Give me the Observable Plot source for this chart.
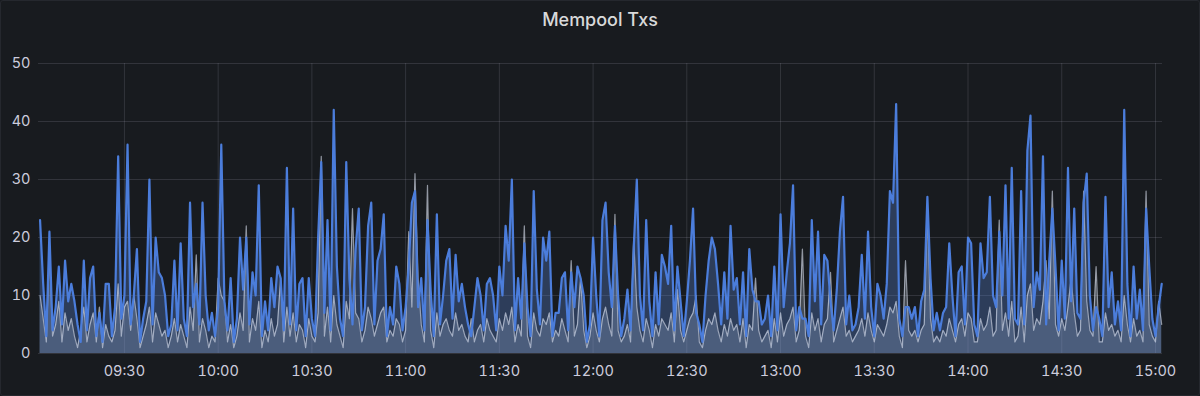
<!DOCTYPE html>
<html>
<head>
<meta charset="utf-8">
<script src="https://cdn.jsdelivr.net/npm/d3@7"></script>
<script src="https://cdn.jsdelivr.net/npm/@observablehq/plot@0.6"></script>
<style>
  html, body { margin: 0; padding: 0; background: #111217; }
  #panel { position: relative; width: 1200px; height: 396px; background: #181b1f; overflow: hidden; }
  #frame { position: absolute; left: 0; top: 0; width: 1198px; height: 394px; border: 1px solid #25282e; border-radius: 3px; pointer-events: none; }
  #title { height: 40px; text-align: center; color: #d8d9da; font: 500 18px/40px Inter, "Noto Sans", sans-serif; }
</style>
</head>
<body>
<div id="panel">
  <div id="title">Mempool Txs</div>
  <div id="chart"></div>
  <div id="frame"></div>
</div>
<script>
// Time axis: one sample per minute starting at 09:03
const startTime = "09:03";
const domainStart = "09:02:30";
const domainEnd = "15:02:15";
const xTickLabels = ["09:30","10:00","10:30","11:00","11:30","12:00","12:30","13:00","13:30","14:00","14:30","15:00"];
const yTicks = [0, 10, 20, 30, 40, 50];

// Blue series (minute samples, by hour block)
const blue0903 = [
  23,12,3,21,4,8,15,5,16,9, 12,9,5,2,16,4,13,15,3,7, 2,12,12,3,8,34,6,10,36,5,
  10,18,2,6,9,30,5,20,14,13, 10,3,5,16,4,19,6,3,26,8, 12,5,26,10,4,7,3,8,36,9];
const blue1003 = [
  4,13,2,6,20,11,20,5,14,10, 29,3,9,4,13,8,15,13,4,32, 5,25,4,12,13,3,13,6,3,20,
  33,7,23,4,42,15,6,3,33,13, 5,18,25,4,8,22,26,5,16,18, 24,3,8,5,15,12,4,8,15,26];
const blue1103 = [
  28,8,13,4,23,11,3,24,5,10, 16,18,6,17,9,12,8,5,3,8, 13,10,4,12,13,10,4,15,10,22,
  16,30,4,13,6,19,8,3,28,11, 5,20,16,21,3,7,7,13,14,4, 14,8,15,13,10,2,5,20,10,3];
const blue1203 = [
  23,26,14,8,22,10,3,6,11,4, 18,30,10,4,23,9,3,14,5,17, 15,12,22,4,15,9,3,9,16,25,
  7,5,2,10,16,20,18,12,5,14, 6,22,11,13,5,14,3,18,11,9, 9,5,6,10,3,15,4,24,8,14];
const blue1303 = [
  19,29,4,8,6,6,3,23,9,21, 5,17,16,9,4,11,21,27,5,10, 4,5,8,17,6,21,8,3,12,10,
  6,12,28,26,43,6,3,8,8,6, 8,3,9,11,27,13,4,7,4,7, 8,19,10,3,14,15,5,20,19,5];
const blue1403 = [
  3,19,13,14,27,10,8,21,10,29, 6,32,6,5,28,5,35,41,8,14, 11,34,5,16,25,15,4,16,6,32,
  9,25,7,6,26,31,10,4,8,6, 3,27,8,14,5,9,4,42,12,3, 15,6,11,4,25,15,6,3,8,12];

// White series (minute samples, by hour block)
const white0903 = [
  10,6,2,18,3,5,9,2,7,4, 6,3,1,4,8,2,5,7,2,8, 1,5,3,2,4,12,3,8,9,4,
  10,6,1,3,5,8,2,7,5,3, 4,1,3,6,2,5,3,1,8,4, 17,2,6,4,1,3,2,13,10,9];
const white1003 = [
  2,5,1,3,7,4,22,2,6,4, 9,1,4,2,6,3,5,13,2,8, 3,7,2,5,4,1,6,3,2,7,
  34,3,8,2,10,5,3,1,9,6, 25,7,6,2,4,8,6,3,5,7, 8,2,4,3,6,5,2,4,21,8];
const white1103 = [
  31,13,5,2,29,4,1,7,3,5, 6,4,3,7,4,5,3,2,6,2, 4,5,2,6,4,3,2,6,4,7,
  5,8,2,5,3,22,3,1,7,4, 3,6,5,7,2,4,3,6,4,2, 16,3,5,13,4,1,3,7,4,2];
const white1203 = [
  6,8,5,3,24,4,2,3,5,2, 20,8,4,2,6,4,1,5,3,6, 5,4,7,2,11,4,2,4,6,7,
  10,2,1,4,6,5,7,4,2,5, 3,6,4,5,2,6,1,5,4,13, 4,2,3,4,1,6,2,7,3,5];
const white1303 = [
  6,8,2,4,18,3,1,7,4,6, 2,5,6,14,2,4,6,8,3,4, 2,3,4,6,3,7,4,2,5,4,
  3,5,8,7,9,3,1,16,4,3, 4,2,4,5,25,6,2,3,2,4, 3,6,4,2,5,6,3,7,6,2];
const white1403 = [
  2,6,4,5,8,3,4,23,4,7, 3,9,2,3,8,2,10,12,4,6, 5,9,16,6,28,5,3,6,4,8,
  13,7,3,4,28,9,4,3,15,2, 2,7,4,5,3,4,2,10,5,2, 6,3,4,2,28,5,3,2,9,5];

const parseT = s => {
  const [h, m, sec] = s.split(":").map(Number);
  return new Date(Date.UTC(2023, 0, 1, h, m, sec || 0));
};
const t0 = parseT(startTime);
const toSeries = vals => vals.map((v, i) => ({ t: new Date(+t0 + i * 60000), v }));
const blueData = toSeries([...blue0903, ...blue1003, ...blue1103, ...blue1203, ...blue1303, ...blue1403]);
const whiteData = toSeries([...white0903, ...white1003, ...white1103, ...white1203, ...white1303, ...white1403]);
const xTicks = xTickLabels.map(parseT);

const chart = Plot.plot({
  width: 1200,
  height: 356,
  marginLeft: 38,
  marginRight: 38,
  marginTop: 23,
  marginBottom: 43,
  style: { background: "transparent", color: "#ccccdc", fontSize: "14.5px", fontFamily: "Inter, 'Noto Sans', sans-serif" },
  x: { type: "utc", domain: [parseT(domainStart), parseT(domainEnd)] },
  y: { domain: [0, 50] },
  marks: [
    Plot.gridY(yTicks, { stroke: "#ccccdc", strokeOpacity: 0.15 }),
    Plot.gridX(xTicks, { stroke: "#ccccdc", strokeOpacity: 0.15 }),
    Plot.areaY(whiteData, { x: "t", y: "v", fill: "#c9d1e2", fillOpacity: 0.26 }),
    Plot.areaY(blueData, { x: "t", y: "v", fill: "#5a86d8", fillOpacity: 0.32 }),
    Plot.lineY(whiteData, { x: "t", y: "v", stroke: "#dfe6f5", strokeOpacity: 0.6, strokeWidth: 1.2 }),
    Plot.lineY(blueData, { x: "t", y: "v", stroke: "#4b7ddb", strokeWidth: 2.2 }),
    Plot.axisY(yTicks, { tickSize: 0, tickPadding: 8, label: null }),
    Plot.axisX(xTicks, { tickSize: 0, tickPadding: 12, label: null, tickFormat: d3.utcFormat("%H:%M") })
  ]
});
document.getElementById("chart").appendChild(chart);
</script>
</body>
</html>
